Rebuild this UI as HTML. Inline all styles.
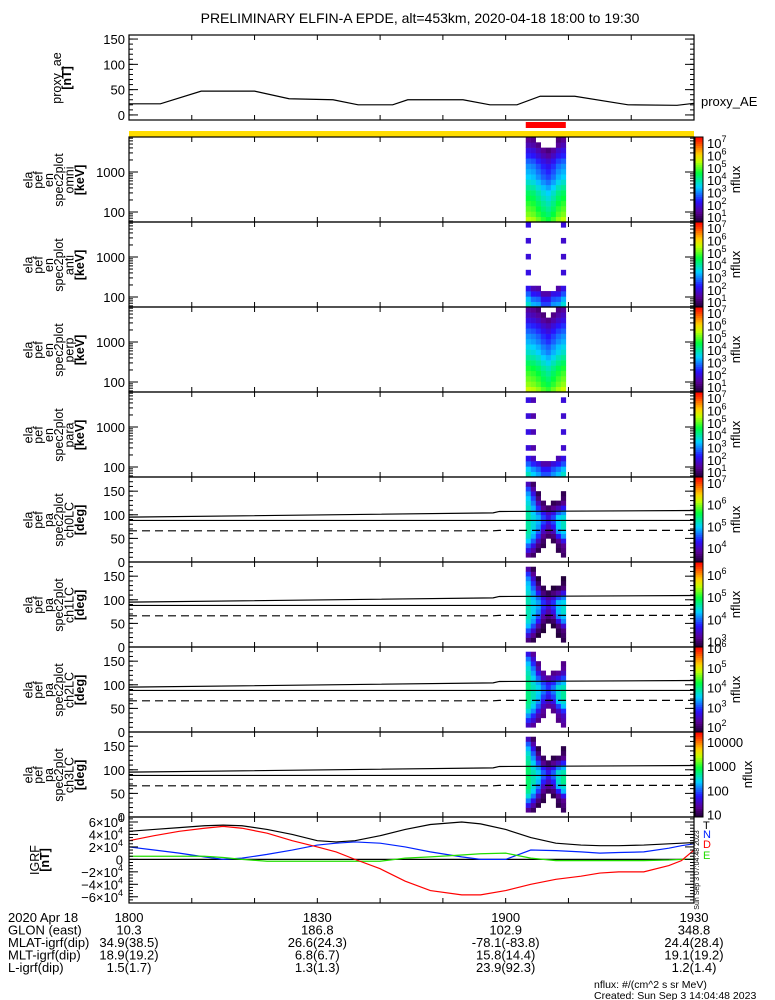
<!DOCTYPE html>
<html><head><meta charset="utf-8"><style>
html,body{margin:0;padding:0;background:#fff;}
svg{display:block;font-family:"Liberation Sans",sans-serif;}
</style></head><body>
<svg id="fig" width="775" height="1000" viewBox="0 0 775 1000" xmlns="http://www.w3.org/2000/svg">
<rect width="775" height="1000" fill="#fff"/>
<text x="420" y="23" font-size="14" text-anchor="middle">PRELIMINARY ELFIN-A EPDE, alt=453km, 2020-04-18 18:00 to 19:30</text>
<g id="g"></g>
</svg>
<script>
// ---------------- data ----------------
const aeTimes = [0,5,11.5,20,25.5,32.5,36.5,42,44.4,53.2,57.5,61.8,65.5,71,79.5,87.3,90];
const aeValues = [22,22,47,47,32,30,20,20,30,30,20,20,37,37,20,19,23];

const igrfTimes = [0,4,8,12,15,18,22,26,30,33,36,40,44,48,53,56,60,64,68,72,75,78,82,86,88,90];
const igrfTotal = [45,48,51,54,55,54,48,40,30,28,30,38,48,56,60,57,48,35,26,23,22,22,23,25,26,27];
const igrfRadial = [30,38,45,50,53,50,42,30,20,12,0,-15,-35,-50,-57,-57,-50,-40,-32,-27,-22,-20,-20,-10,-2,15];
const igrfNorth = [20,15,10,4,0,2,8,15,23,26,28,26,20,12,4,0,0,15,14,12,10,11,12,18,22,25];
const igrfEast = [5,5,5,5,3,0,-3,-3,-3,-3,-3,-3,2,4,7,9,10,2,-2,-2,-2,-2,-2,-1,0,0];

const specTimes = [63.2,64.0,64.8,65.6,66.4,67.2,68.0,68.8]; // column start times (min after 18:00)
const specColWidth = 0.78;
const omniProfile = [5.4,5.1,4.9,4.7,4.5,4.3,4.0,3.7,3.4,3.2,3.0,2.7,2.3,2.0,1.6,1.3];
const omniColOffset = [0.1,0.0,-0.3,-0.6,-0.8,-0.5,-0.1,0.1];
const perpProfile = [5.5,5.2,5.0,4.8,4.6,4.3,4.0,3.7,3.5,3.2,3.0,2.7,2.4,2.0,1.7,1.4];
const perpColOffset = [0.1,0.0,-0.2,-0.5,-0.7,-0.4,-0.1,0.1];
const antiProfile = [3.6,3.2,2.6,2.0,1.2,1.2,1.9,1.2,1.2,1.8,1.2,1.2,1.8,1.2,1.2,1.9];
const antiColOffset = [0.2,-0.3,-0.4,-1,-1,-0.5,-0.4,0.1];
const paraProfile = [3.7,3.3,2.6,2.0,1.2,1.8,1.2,1.2,1.9,1.2,1.2,1.8,1.2,1.2,1.9,1.2];
const paraColOffset = [0.2,-0.2,-0.5,-1,-1,-0.6,-0.3,0.1];

const pitchGrid = [
 [0,0,0,0,0,0,0,0],
 [3.8,3.6,0,0,0,0,0,3.6],
 [4.2,3.9,3.5,0,0,0,3.5,3.7],
 [4.6,4.2,3.7,3.5,0,0,3.6,3.8],
 [5.0,4.6,4.0,3.6,0,3.5,3.8,4.2],
 [5.2,4.9,4.4,3.8,3.6,3.7,4.3,4.8],
 [5.3,5.0,4.6,4.0,3.8,4.0,4.8,5.0],
 [5.3,5.1,4.8,4.3,4.0,4.3,5.0,5.2],
 [5.3,5.1,4.9,4.5,4.2,4.5,5.0,5.2],
 [5.3,5.1,4.9,4.5,4.2,4.5,5.0,5.1],
 [5.3,5.0,4.7,4.3,4.0,4.2,4.6,4.8],
 [5.2,4.9,4.4,3.8,3.6,3.8,4.0,4.3],
 [5.1,4.7,4.0,3.6,0,3.5,3.6,3.8],
 [5.0,4.5,3.7,0,0,0,0,3.6],
 [4.8,4.2,3.5,0,0,0,0,3.5],
 [4.5,3.9,0,0,0,0,0,0],
 [4.0,3.6,0,0,0,0,0,0],
 [0,0,0,0,0,0,0,0]
];
const pitchChannelOffset = [0, -0.7, -1.3, -2.5];

const lcTimes = [0,58,59,90];
const lossCone = [95,104,107,109];
const lossCone2 = [88,88,88,88];
const antiLossCone = [66,66,67,67];

const bottomRows = ["2020 Apr 18","GLON (east)","MLAT-igrf(dip)","MLT-igrf(dip)","L-igrf(dip)"];
const bottomTicks = ["1800","1830","1900","1930"];
const bottomVals = [
 ["10.3","186.8","102.9","348.8"],
 ["34.9(38.5)","26.6(24.3)","-78.1(-83.8)","24.4(28.4)"],
 ["18.9(19.2)","6.8(6.7)","15.8(14.4)","19.1(19.2)"],
 ["1.5(1.7)","1.3(1.3)","23.9(92.3)","1.2(1.4)"]
];

// ---------------- helpers ----------------
const NS="http://www.w3.org/2000/svg";
const G=document.getElementById('g');
function el(tag,attrs,parent){const e=document.createElementNS(NS,tag);for(const k in attrs)e.setAttribute(k,attrs[k]);(parent||G).appendChild(e);return e;}
const X0=129,X1=694;
const xT=t=>X0+(X1-X0)*t/90;
function cmap(f){
  const stops=[[0,[30,0,50]],[0.12,[90,0,150]],[0.25,[40,20,255]],[0.42,[0,210,255]],[0.58,[0,255,60]],[0.72,[200,255,0]],[0.8,[255,210,0]],[0.9,[255,100,0]],[1,[255,0,0]]];
  f=Math.max(0,Math.min(1,f));
  for(let i=1;i<stops.length;i++){if(f<=stops[i][0]){const a=stops[i-1],b=stops[i];const u=(f-a[0])/(b[0]-a[0]);const c=a[1].map((v,k)=>Math.round(v+(b[1][k]-v)*u));return `rgb(${c[0]},${c[1]},${c[2]})`;}}
  return 'rgb(255,0,0)';
}
function ylab(lines,cx,cy,name){
  const g=el('g',{});
  
  
  const n=lines.length;
  lines.forEach((s,i)=>{
    const x=cx+(i-(n-1)/2)*10.3+4;
    const t=el('text',{x:x,y:cy,'font-size':12.5,'text-anchor':'middle',transform:`rotate(-90 ${x} ${cy})`},g);
    if(s[0]==='[') t.setAttribute('font-weight','bold');
    t.textContent=s;
  });
}
function timeTicks(top,bot){
  for(let m=10;m<90;m+=10){el('line',{x1:xT(m),x2:xT(m),y1:bot,y2:bot-5,stroke:'#000'});el('line',{x1:xT(m),x2:xT(m),y1:top,y2:top+5,stroke:'#000'});}
}
function frame(top,bot,name){
  const r=el('rect',{x:X0,y:top,width:X1-X0,height:bot-top,fill:'none',stroke:'#000','stroke-width':1.2});
  
  
  timeTicks(top,bot);
}
function linTicks(top,bot,lo,hi,majors,minorStep){
  const y=v=>bot-(v-lo)/(hi-lo)*(bot-top);
  for(let v=lo;v<=hi+1e-9;v+=minorStep){const yy=y(v);el('line',{x1:X0,x2:X0+4,y1:yy,y2:yy,stroke:'#000'});el('line',{x1:X1,x2:X1-4,y1:yy,y2:yy,stroke:'#000'});}
  majors.forEach(m=>{const yy=y(m.v);el('line',{x1:X0,x2:X0+9,y1:yy,y2:yy,stroke:'#000'});el('line',{x1:X1,x2:X1-9,y1:yy,y2:yy,stroke:'#000'});
    const t=el('text',{x:X0-4,y:yy+5,'font-size':13,'text-anchor':'end'});t.textContent=m.l;});
}
function colorbar(top,bot,lo,hi,labels,name){
  const g=el('g',{});
  
  
  const N=40,h=(bot-top)/N;
  for(let i=0;i<N;i++){el('rect',{x:695,y:bot-(i+1)*h,width:8,height:h+0.5,fill:cmap((i+0.5)/N)},g);}
  el('rect',{x:695,y:top,width:8,height:bot-top,fill:'none',stroke:'#000'},g);
  labels.forEach(L=>{
    const yy=bot-(L.v-lo)/(hi-lo)*(bot-top);
    const t=el('text',{x:707,y:yy+5,'font-size':13},g);
    if(L.plain){t.textContent=L.plain;}else{t.textContent='10';const s=el('tspan',{dy:-6,'font-size':9},t);s.textContent=String(L.v);}
  });
  const cy=(top+bot)/2, cx=labels.some(l=>l.plain)?752:740;
  const nt=el('text',{x:cx,y:cy,'font-size':13,'text-anchor':'middle',transform:`rotate(-90 ${cx} ${cy})`},g);
  nt.textContent='nflux';
}

// ---------------- proxy AE ----------------
{
  const top=35,bot=120,lo=-10,hi=158;
  frame(top,bot,'proxy-ae-panel');
  linTicks(top,bot,lo,hi,[{v:0,l:'0'},{v:50,l:'50'},{v:100,l:'100'},{v:150,l:'150'}],10);
  const y=v=>bot-(v-lo)/(hi-lo)*(bot-top);
  const p=el('polyline',{points:aeTimes.map((t,i)=>xT(t)+','+y(aeValues[i])).join(' '),fill:'none',stroke:'#000','stroke-width':1.2});
  
  
  ylab(['proxy_ae','[nT]'],62,78,'proxy-ae-axis-title');
  const lt=el('text',{x:701,y:106,'font-size':13});lt.textContent='proxy_AE';
  
  
}
// red science-zone bar and yellow bar
{
  const rb=el('rect',{x:xT(specTimes[0]),y:122,width:xT(specTimes[7]+specColWidth)-xT(specTimes[0]),height:6,fill:'#ff0000'});
  
  
  const yb=el('rect',{x:X0,y:131,width:X1-X0,height:6,fill:'#ffdd00'});
  
  
}

// ---------------- energy spectrograms ----------------
const eLo=1.75,eHi=3.875;
const energyPanels=[
  {top:137,name:'omni',prof:omniProfile,off:omniColOffset,min:1.2},
  {top:222,name:'anti',prof:antiProfile,off:antiColOffset,min:1.6},
  {top:307,name:'perp',prof:perpProfile,off:perpColOffset,min:1.2},
  {top:392,name:'para',prof:paraProfile,off:paraColOffset,min:1.6}
];
const cbLo=0.6,cbHi=7.5;
energyPanels.forEach(P=>{
  const top=P.top,bot=top+85;
  const yE=le=>top+(eHi-le)/(eHi-eLo)*85;
  const nb=P.prof.length, dE=(eHi-eLo)/nb;
  const g=el('g',{});
  
  
  specTimes.forEach((t,j)=>{
    P.prof.forEach((v0,i)=>{
      const v=v0+P.off[j];
      if(v<P.min) return;
      const le=eLo+i*dE;
      el('rect',{x:xT(t),y:yE(le+dE),width:xT(t+specColWidth)-xT(t)+0.3,height:yE(le)-yE(le+dE)+0.3,fill:cmap((v-cbLo)/(cbHi-cbLo))},g);
    });
  });
  frame(top,bot,'panel-'+P.name);
  for(let d=1;d<=3;d++){for(let k=1;k<10;k++){const le=d+Math.log10(k);if(le<eLo||le>eHi)continue;const yy=yE(le);const L=k===1?9:4;
    el('line',{x1:X0,x2:X0+L,y1:yy,y2:yy,stroke:'#000'});el('line',{x1:X1,x2:X1-L,y1:yy,y2:yy,stroke:'#000'});}}
  [[2,'100'],[3,'1000']].forEach(m=>{const t=el('text',{x:X0-4,y:yE(m[0])+5,'font-size':13,'text-anchor':'end'});t.textContent=m[1];});
  ylab(['ela','pef','en','spec2plot',P.name,'[keV]'],54,top+43,P.name+'-axis-title');
  colorbar(top,bot,cbLo,cbHi,[1,2,3,4,5,6,7].map(v=>({v:v})),P.name+'-colorbar');
});

// ---------------- pitch-angle spectrograms ----------------
const pitchPanels=[
  {top:477,ch:'ch0LC',lo:3.35,hi:7.28,labels:[4,5,6,7].map(v=>({v:v}))},
  {top:562,ch:'ch1LC',lo:2.76,hi:6.58,labels:[3,4,5,6].map(v=>({v:v}))},
  {top:647,ch:'ch2LC',lo:1.75,hi:6.05,labels:[2,3,4,5,6].map(v=>({v:v}))},
  {top:732,ch:'ch3LC',lo:0.9,hi:4.41,labels:[{v:1,plain:'10'},{v:2,plain:'100'},{v:3,plain:'1000'},{v:4,plain:'10000'}]}
];
pitchPanels.forEach((P,pi)=>{
  const top=P.top,bot=top+85;
  const yP=d=>bot-d/180*85;
  const g=el('g',{});
  
  
  pitchGrid.forEach((row,i)=>{
    row.forEach((v0,j)=>{
      if(!v0) return;
      const v=v0+pitchChannelOffset[pi];
      if(v<P.lo) return;
      const t=specTimes[j];
      el('rect',{x:xT(t),y:yP((i+1)*10),width:xT(t+specColWidth)-xT(t)+0.3,height:yP(i*10)-yP((i+1)*10)+0.3,fill:cmap((v-P.lo)/(P.hi-P.lo))},g);
    });
  });
  const l1=el('polyline',{points:lcTimes.map((t,k)=>xT(t)+','+yP(lossCone[k])).join(' '),fill:'none',stroke:'#000','stroke-width':1.2});
  
  
  const l2=el('polyline',{points:lcTimes.map((t,k)=>xT(t)+','+yP(lossCone2[k])).join(' '),fill:'none',stroke:'#000','stroke-width':1.2});
  
  
  const l3=el('polyline',{points:lcTimes.map((t,k)=>xT(t)+','+yP(antiLossCone[k])).join(' '),fill:'none',stroke:'#000','stroke-width':1.2,'stroke-dasharray':'8,5'});
  
  
  frame(top,bot,'panel-'+P.ch);
  linTicks(top,bot,0,180,[{v:0,l:'0'},{v:50,l:'50'},{v:100,l:'100'},{v:150,l:'150'}],10);
  ylab(['ela','pef','pa','spec2plot',P.ch,'[deg]'],54,top+43,P.ch+'-axis-title');
  colorbar(top,bot,P.lo,P.hi,P.labels,P.ch+'-colorbar');
});

// ---------------- IGRF ----------------
{
  const top=817,bot=903,lo=-70,hi=68;
  const y=v=>bot-(v-lo)/(hi-lo)*(bot-top);
  el('line',{x1:X0,x2:X1,y1:y(0),y2:y(0),stroke:'#000','stroke-width':1.2});
  const series=[[igrfTotal,'#000','igrf-total-line'],[igrfNorth,'#0022ff','igrf-north-line'],[igrfEast,'#22dd00','igrf-east-line'],[igrfRadial,'#ff0000','igrf-down-line']];
  series.forEach(s=>{
    const p=el('polyline',{points:igrfTimes.map((t,i)=>xT(t)+','+y(s[0][i])).join(' '),fill:'none',stroke:s[1],'stroke-width':1.2});
    
    
  });
  frame(top,bot,'igrf-panel');
  for(let v=-70;v<=68;v+=5){const yy=y(v);el('line',{x1:X0,x2:X0+4,y1:yy,y2:yy,stroke:'#000'});el('line',{x1:X1,x2:X1-4,y1:yy,y2:yy,stroke:'#000'});}
  [-60,-40,-20,0,20,40,60].forEach(v=>{const yy=y(v);el('line',{x1:X0,x2:X0+9,y1:yy,y2:yy,stroke:'#000'});el('line',{x1:X1,x2:X1-9,y1:yy,y2:yy,stroke:'#000'});
    const t=el('text',{x:X0-6,y:yy+5,'font-size':13,'text-anchor':'end'});
    if(v===0){t.textContent='0';}else{t.textContent=(v<0?'\u2212':'')+Math.abs(v/10)+'\u00d710';const s=el('tspan',{dy:-6,'font-size':9},t);s.textContent='4';}
  });
  ylab(['IGRF','[nT]'],40,860,'igrf-axis-title');
  [['T','#000',829],['N','#0022ff',838],['D','#ff0000',848],['E','#22dd00',859]].forEach(a=>{
    const t=el('text',{x:703,y:a[2],'font-size':11,fill:a[1]});t.textContent=a[0];
    
    
  });
  const st=el('text',{x:699,y:870,'font-size':7,transform:'rotate(-90 699 870)','text-anchor':'middle'});st.textContent='Sun Sep  3 07:04:48 2023';
}

// ---------------- bottom ephemeris labels ----------------
{
  const g=el('g',{});
  
  
  const ys=[922,934.5,947,959.5,972];
  bottomRows.forEach((r,i)=>{const t=el('text',{x:8,y:ys[i],'font-size':13},g);t.textContent=r;});
  const tx=[0,30,60,90];
  bottomTicks.forEach((s,k)=>{const t=el('text',{x:xT(tx[k]),y:ys[0],'font-size':13,'text-anchor':'middle'},g);t.textContent=s;});
  bottomVals.forEach((row,i)=>row.forEach((s,k)=>{const t=el('text',{x:xT(tx[k]),y:ys[i+1],'font-size':13,'text-anchor':'middle'},g);t.textContent=s;}));
  const n1=el('text',{x:594,y:988,'font-size':10.5});n1.textContent='nflux: #/(cm^2 s sr MeV)';
  
  
  const n2=el('text',{x:594,y:999,'font-size':10.5});n2.textContent='Created: Sun Sep  3 14:04:48 2023';
  
  
}
</script>
</body></html>
